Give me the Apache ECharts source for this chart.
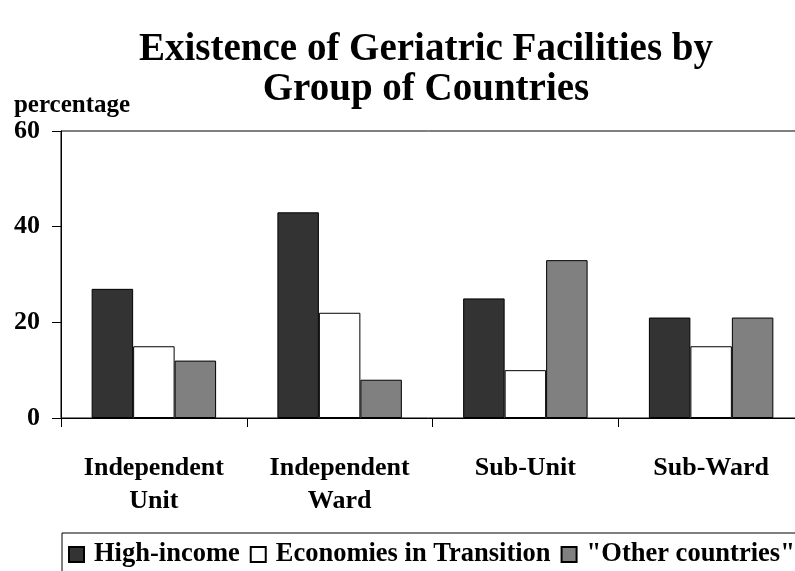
<!DOCTYPE html>
<html>
<head>
<meta charset="utf-8">
<title>Existence of Geriatric Facilities</title>
<script src="https://cdn.jsdelivr.net/npm/echarts@6/dist/echarts.min.js"></script>
<style>
  html, body { margin: 0; padding: 0; background: #fff; }
  #main { width: 795px; height: 571px; }
</style>
</head>
<body>
<div id="main"></div>
<script>
// 数据
var categories = ['Independent\nUnit', 'Independent\nWard', 'Sub-Unit', 'Sub-Ward'];
var seriesNames = ['High-income', 'Economies in Transition', '"Other countries"'];
var highIncome = [27, 43, 25, 21];
var transition = [15, 22, 10, 15];
var otherCountries = [12, 8, 33, 21];
var yTicks = [0, 20, 40, 60];

var FONT = '"Liberation Serif", "Times New Roman", serif';
var colors = ['#333333', '#ffffff', '#808080'];

function makeBar(name, data, color) {
  return {
    name: name,
    type: 'bar',
    data: data,
    barGap: '0%',
    barCategoryGap: '33%',
    itemStyle: {
      color: color,
      borderColor: '#000',
      borderWidth: 1
    }
  };
}

var chart = echarts.init(document.getElementById('main'));
var option = {
  animation: false,
  textStyle: { fontFamily: FONT },
  title: {
    text: 'Existence of Geriatric Facilities by\nGroup of Countries',
    left: 421,
    textAlign: 'center',
    top: 25,
    textStyle: {
      fontFamily: FONT,
      fontWeight: 'bold',
      fontSize: 39,
      lineHeight: 40,
      color: '#000'
    }
  },
  legend: {
    data: seriesNames,
    left: 62,
    top: 533,
    width: 800,
    orient: 'horizontal',
    borderColor: '#000',
    borderWidth: 1,
    padding: [8, 6, 20, 6],
    itemWidth: 15,
    itemHeight: 15,
    itemGap: 10,
    icon: 'rect',
    textStyle: {
      fontFamily: FONT,
      fontWeight: 'bold',
      fontSize: 26.5,
      color: '#000',
      padding: [0, 0, 0, 5]
    }
  },
  grid: {
    show: true,
    left: 61,
    top: 131,
    width: 743,
    height: 287,
    outerBoundsMode: 'none',
    containLabel: false,
    borderColor: '#000',
    borderWidth: 1,
    backgroundColor: 'transparent'
  },
  xAxis: {
    type: 'category',
    data: categories,
    axisLine: { lineStyle: { color: '#000', width: 1 } },
    axisTick: { show: true, inside: false, length: 9, lineStyle: { color: '#000' } },
    axisLabel: {
      margin: 34,
      fontFamily: FONT,
      fontWeight: 'bold',
      fontSize: 26,
      lineHeight: 33,
      color: '#000'
    }
  },
  yAxis: {
    type: 'value',
    min: 0,
    max: 60,
    interval: 20,
    name: 'percentage',
    nameLocation: 'end',
    nameGap: 6,
    nameTextStyle: {
      fontFamily: FONT,
      fontWeight: 'bold',
      fontSize: 25,
      color: '#000',
      align: 'center',
      padding: [0, 0, 0, 22]
    },
    axisLine: { show: true, lineStyle: { color: '#000', width: 1 } },
    axisTick: { show: true, inside: false, length: 9, lineStyle: { color: '#000' } },
    splitLine: { show: false },
    axisLabel: {
      margin: 21,
      fontFamily: FONT,
      fontWeight: 'bold',
      fontSize: 26,
      color: '#000',
      formatter: function (v) { return yTicks.indexOf(v) >= 0 ? String(v) : ''; }
    }
  },
  series: [
    makeBar(seriesNames[0], highIncome, colors[0]),
    makeBar(seriesNames[1], transition, colors[1]),
    makeBar(seriesNames[2], otherCountries, colors[2])
  ]
};
chart.setOption(option);
</script>
</body>
</html>
